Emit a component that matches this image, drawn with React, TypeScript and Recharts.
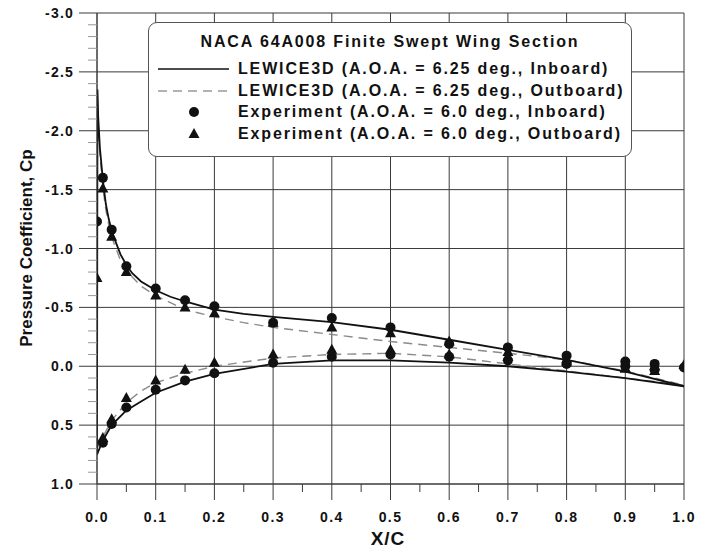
import { ComposedChart, Line, Scatter, XAxis, YAxis, ReferenceLine } from 'recharts'

/* ── Axis ticks ─────────────────────────────────────────────────────── */

const X_MAJOR = [0, 0.1, 0.2, 0.3, 0.4, 0.5, 0.6, 0.7, 0.8, 0.9, 1.0]
const X_TICKS = [0, 0.05, 0.1, 0.15, 0.2, 0.25, 0.3, 0.35, 0.4, 0.45, 0.5, 0.55, 0.6, 0.65, 0.7, 0.75, 0.8, 0.85, 0.9, 0.95, 1.0]
const Y_MAJOR = [-3.0, -2.5, -2.0, -1.5, -1.0, -0.5, 0.0, 0.5, 1.0]
const Y_TICKS = [
  -3.0, -2.9, -2.8, -2.7, -2.6, -2.5, -2.4, -2.3, -2.2, -2.1, -2.0, -1.9, -1.8, -1.7, -1.6, -1.5, -1.4, -1.3, -1.2, -1.1,
  -1.0, -0.9, -0.8, -0.7, -0.6, -0.5, -0.4, -0.3, -0.2, -0.1, 0.0, 0.1, 0.2, 0.3, 0.4, 0.5, 0.6, 0.7, 0.8, 0.9, 1.0,
]

/* ── LEWICE3D, inboard (solid) ──────────────────────────────────────── */

const SOLID_UPPER_X = [0, 0.0008, 0.002, 0.005, 0.01, 0.015, 0.02, 0.025, 0.03, 0.04, 0.05, 0.06, 0.075, 0.1, 0.125, 0.15, 0.2, 0.25, 0.3, 0.4, 0.5, 0.6, 0.7, 0.8, 0.9, 1.0]
const SOLID_UPPER_CP = [0.74, -2.35, -2.12, -1.85, -1.58, -1.38, -1.25, -1.15, -1.08, -0.95, -0.86, -0.79, -0.72, -0.645, -0.59, -0.55, -0.48, -0.445, -0.42, -0.375, -0.31, -0.225, -0.14, -0.055, 0.045, 0.17]
const SOLID_LOWER_X = [0, 0.005, 0.01, 0.025, 0.05, 0.075, 0.1, 0.15, 0.2, 0.3, 0.4, 0.5, 0.6, 0.7, 0.8, 0.9, 1.0]
const SOLID_LOWER_CP = [0.75, 0.69, 0.63, 0.5, 0.375, 0.3, 0.225, 0.13, 0.065, -0.02, -0.05, -0.05, -0.03, 0.0, 0.045, 0.1, 0.17]

/* ── LEWICE3D, outboard (dashed) ────────────────────────────────────── */

const DASHED_UPPER_X = [0, 0.0008, 0.002, 0.005, 0.01, 0.015, 0.02, 0.025, 0.03, 0.04, 0.05, 0.075, 0.1, 0.15, 0.2, 0.25, 0.3, 0.4, 0.5, 0.6, 0.7, 0.8, 0.9, 1.0]
const DASHED_UPPER_CP = [0.7, -2.3, -2.05, -1.8, -1.52, -1.33, -1.2, -1.1, -1.03, -0.9, -0.81, -0.68, -0.6, -0.48, -0.42, -0.37, -0.33, -0.27, -0.21, -0.16, -0.11, -0.055, 0.04, 0.16]
const DASHED_LOWER_X = [0, 0.005, 0.01, 0.025, 0.05, 0.075, 0.1, 0.15, 0.2, 0.3, 0.4, 0.5, 0.6, 0.7, 0.8, 0.9, 1.0]
const DASHED_LOWER_CP = [0.7, 0.65, 0.6, 0.46, 0.31, 0.21, 0.14, 0.06, 0.0, -0.07, -0.1, -0.11, -0.08, -0.02, 0.04, 0.1, 0.16]

/* ── Experiment (A.O.A. = 6.0 deg.) ─────────────────────────────────── */

const EXP_UPPER_X = [0, 0.01, 0.025, 0.05, 0.1, 0.15, 0.2, 0.3, 0.4, 0.5, 0.6, 0.7, 0.8, 0.9, 0.95, 1.0]
const EXP_IN_UPPER = [-1.23, -1.6, -1.16, -0.85, -0.66, -0.56, -0.51, -0.37, -0.41, -0.33, -0.19, -0.16, -0.09, -0.04, -0.02, 0.01]
const EXP_OUT_UPPER = [-0.75, -1.51, -1.1, -0.8, -0.6, -0.5, -0.45, -0.37, -0.33, -0.28, -0.21, -0.12, -0.06, 0.02, 0.0, -0.01]
const EXP_LOWER_X = [0.01, 0.025, 0.05, 0.1, 0.15, 0.2, 0.3, 0.4, 0.5, 0.6, 0.7, 0.8, 0.9, 0.95]
const EXP_IN_LOWER = [0.65, 0.49, 0.35, 0.2, 0.12, 0.06, -0.03, -0.08, -0.1, -0.08, -0.05, -0.02, 0.0, 0.03]
const EXP_OUT_LOWER = [0.61, 0.45, 0.27, 0.12, 0.03, -0.03, -0.1, -0.14, -0.14, -0.1, -0.08, -0.04, 0.02, 0.04]

const LEGEND_TITLE = 'NACA 64A008 Finite Swept Wing Section'
const LEGEND_LABELS = [
  'LEWICE3D (A.O.A. = 6.25 deg., Inboard)',
  'LEWICE3D (A.O.A. = 6.25 deg., Outboard)',
  'Experiment (A.O.A. = 6.0 deg., Inboard)',
  'Experiment (A.O.A. = 6.0 deg., Outboard)',
]

const FONT = '"Liberation Sans", Arial, sans-serif'
const INK = '#111'
const GRID = '#3a3a3a'

const zip = (xs: number[], ys: number[]) => xs.map((x, i) => ({ x, cp: ys[i] }))

const solidUpper = zip(SOLID_UPPER_X, SOLID_UPPER_CP)
const solidLower = zip(SOLID_LOWER_X, SOLID_LOWER_CP)
const dashedUpper = zip(DASHED_UPPER_X, DASHED_UPPER_CP)
const dashedLower = zip(DASHED_LOWER_X, DASHED_LOWER_CP)
const expInboard = [...zip(EXP_UPPER_X, EXP_IN_UPPER), ...zip(EXP_LOWER_X, EXP_IN_LOWER)]
const expOutboard = [...zip(EXP_UPPER_X, EXP_OUT_UPPER), ...zip(EXP_LOWER_X, EXP_OUT_LOWER)]

const isMajor = (v: number, majors: number[]) => majors.some((m) => Math.abs(m - v) < 1e-6)

/* ── Custom ticks: major ticks get a label, minor ones a short mark ── */

function XTick({ x, y, payload }: any) {
  const major = isMajor(payload.value, X_MAJOR)
  return (
    <g>
      <line x1={x} x2={x} y1={y} y2={y + (major ? 16 : 8)} stroke={GRID} strokeWidth={1} />
      {major && (
        <text x={x} y={y + 33} textAnchor="middle" dominantBaseline="central" fontFamily={FONT} fontWeight="bold" fontSize={14} letterSpacing={1.4} fill={INK}>
          {payload.value.toFixed(1)}
        </text>
      )}
    </g>
  )
}

function YTick({ x, y, payload }: any) {
  const major = isMajor(payload.value, Y_MAJOR)
  return (
    <g>
      <line x1={x - (major ? 18 : 9)} x2={x} y1={y} y2={y} stroke={major ? GRID : '#999'} strokeWidth={1} />
      {major && (
        <text x={x - 23} y={y} textAnchor="end" dominantBaseline="central" fontFamily={FONT} fontWeight="bold" fontSize={14} letterSpacing={1.2} fill={INK}>
          {payload.value.toFixed(1)}
        </text>
      )}
    </g>
  )
}

function Triangle({ cx, cy }: any) {
  return <path d={`M${cx},${cy - 6} L${cx + 5.5},${cy + 4} L${cx - 5.5},${cy + 4} Z`} fill={INK} />
}

function Dot({ cx, cy }: any) {
  return <circle cx={cx} cy={cy} r={5} fill={INK} />
}

/* ── Legend box (drawn over the plot, like the original) ────────────── */

function LegendBox() {
  const textStyle = { fontFamily: FONT, fontWeight: 'bold' as const, fontSize: 16, letterSpacing: 1.85, color: INK }
  return (
    <div
      style={{
        position: 'absolute',
        left: 148,
        top: 22,
        width: 484,
        height: 135,
        boxSizing: 'border-box',
        border: '1px solid #555',
        borderRadius: 9,
        background: '#fff',
      }}
    >
      <div style={{ ...textStyle, position: 'absolute', top: 9, left: 0, width: '100%', textAlign: 'center', lineHeight: '20px' }}>{LEGEND_TITLE}</div>
      {LEGEND_LABELS.map((label, i) => (
        <div key={label} style={{ position: 'absolute', left: 0, top: 36 + i * 21.7, height: 20, width: '100%' }}>
          <svg width={86} height={20} style={{ position: 'absolute', left: 0, top: 0 }}>
            {i === 0 && <line x1={9} x2={80} y1={10} y2={10} stroke={INK} strokeWidth={1.6} />}
            {i === 1 && <line x1={9} x2={80} y1={10} y2={10} stroke="#999" strokeWidth={1.4} strokeDasharray="9 6" />}
            {i === 2 && <circle cx={45} cy={10} r={5} fill={INK} />}
            {i === 3 && <path d="M45,4 L50.5,14 L39.5,14 Z" fill={INK} />}
          </svg>
          <div style={{ ...textStyle, position: 'absolute', left: 89, top: 0, lineHeight: '20px', whiteSpace: 'nowrap' }}>{label}</div>
        </div>
      ))}
    </div>
  )
}

export default function App() {
  return (
    <div style={{ position: 'absolute', left: 0, top: 0, width: 703, height: 552, background: '#fff' }}>
      <ComposedChart width={703} height={552} margin={{ top: 13, right: 19, bottom: 0, left: 0 }}>
        <XAxis
          type="number"
          dataKey="x"
          domain={[0, 1]}
          ticks={X_TICKS}
          interval={0}
          tickSize={0}
          tickMargin={0}
          tickLine={false}
          height={68}
          axisLine={{ stroke: GRID }}
          tick={<XTick />}
          allowDataOverflow
        />
        <YAxis
          type="number"
          dataKey="cp"
          domain={[-3, 1]}
          reversed
          ticks={Y_TICKS}
          interval={0}
          tickSize={0}
          tickMargin={0}
          tickLine={false}
          width={97}
          axisLine={{ stroke: GRID }}
          tick={<YTick />}
          allowDataOverflow
        />

        {X_MAJOR.map((v) => (
          <ReferenceLine key={`gx${v}`} x={v} stroke={GRID} strokeWidth={1} />
        ))}
        {Y_MAJOR.map((v) => (
          <ReferenceLine key={`gy${v}`} y={v} stroke={GRID} strokeWidth={1} />
        ))}

        <Line data={dashedUpper} dataKey="cp" type="linear" stroke="#8a8a8a" strokeWidth={1.4} strokeDasharray="9 6" dot={false} isAnimationActive={false} />
        <Line data={dashedLower} dataKey="cp" type="linear" stroke="#8a8a8a" strokeWidth={1.4} strokeDasharray="9 6" dot={false} isAnimationActive={false} />
        <Line data={solidUpper} dataKey="cp" type="linear" stroke={INK} strokeWidth={1.8} dot={false} isAnimationActive={false} />
        <Line data={solidLower} dataKey="cp" type="linear" stroke={INK} strokeWidth={1.8} dot={false} isAnimationActive={false} />

        <Scatter data={expInboard} dataKey="cp" shape={<Dot />} isAnimationActive={false} />
        <Scatter data={expOutboard} dataKey="cp" shape={<Triangle />} isAnimationActive={false} />
      </ComposedChart>

      <LegendBox />

      <div
        style={{
          position: 'absolute',
          left: 27,
          top: 248,
          transform: 'translate(-50%, -50%) rotate(-90deg)',
          fontFamily: FONT,
          fontWeight: 'bold',
          fontSize: 17,
          whiteSpace: 'nowrap',
          color: INK,
        }}
      >
        Pressure Coefficient, Cp
      </div>
      <div
        style={{
          position: 'absolute',
          left: 388,
          top: 539,
          transform: 'translate(-50%, -50%)',
          fontFamily: FONT,
          fontWeight: 'bold',
          fontSize: 19,
          letterSpacing: 1,
          whiteSpace: 'nowrap',
          color: INK,
        }}
      >
        X/C
      </div>
    </div>
  )
}
